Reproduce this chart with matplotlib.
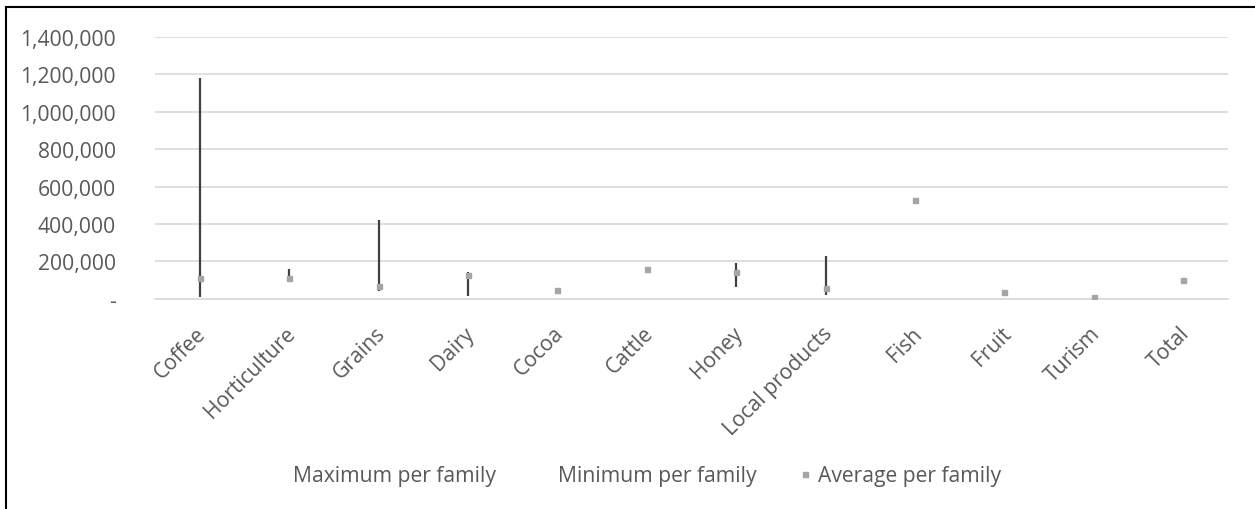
import numpy as np
import matplotlib
matplotlib.use('Agg')
import matplotlib.pyplot as plt
import matplotlib.transforms as mtransforms
from matplotlib.lines import Line2D
from matplotlib.ticker import FuncFormatter

plt.rcParams['font.family'] = ['Open Sans', 'DejaVu Sans']

categorias = ['Coffee', 'Horticulture', 'Grains', 'Dairy', 'Cocoa', 'Cattle',
              'Honey', 'Local products', 'Fish', 'Fruit', 'Turism', 'Total']
maximo = [1178000, 160000, 423000, 146000, 57000, np.nan,
          190000, 230000, np.nan, np.nan, np.nan, np.nan]
minimo = [9000, 89000, 41000, 18000, 42000, np.nan,
          66000, 23000, np.nan, np.nan, np.nan, np.nan]
media = [110000, 110000, 71000, 130000, 49000, 162000,
         146000, 59000, 530000, 37000, 11000, 101000]

cinza_texto = '#595959'
tam_fonte = 15.2

fig = plt.figure(figsize=(12.55, 5.10), dpi=100)
ax = fig.add_axes([0.1235, 0.412, 0.855, 0.514])

x = np.arange(len(categorias))
ax.vlines(x, minimo, maximo, color='#404040', linewidth=1.6, zorder=3)
ax.plot(x, media, linestyle='none', marker='s', markersize=3.6,
        color='#a5a5a5', zorder=4)

ax.set_xlim(-0.5, len(categorias) - 0.5)
ax.set_ylim(0, 1400000)
ax.set_yticks(np.arange(0, 1400001, 200000))
ax.yaxis.set_major_formatter(FuncFormatter(lambda v, p: '-' if v == 0 else f'{int(v):,}'))
ax.grid(axis='y', color='#d9d9d9', linewidth=1.2)
ax.set_axisbelow(True)
for s in ['top', 'right', 'left']:
    ax.spines[s].set_visible(False)
ax.spines['bottom'].set_color('#d9d9d9')
ax.spines['bottom'].set_linewidth(1.2)

ax.set_xticks(x)
ax.set_xticklabels(categorias, rotation=45, ha='right', rotation_mode='anchor')
ax.tick_params(axis='both', length=0, labelsize=tam_fonte, labelcolor=cinza_texto)
ax.tick_params(axis='y', pad=28)
ax.tick_params(axis='x', pad=17)
desloc = mtransforms.ScaledTranslation(-4 / 100, 0, fig.dpi_scale_trans)
for lbl in ax.get_xticklabels():
    lbl.set_transform(lbl.get_transform() + desloc)

handles = [Line2D([], [], linestyle='none'),
           Line2D([], [], linestyle='none'),
           Line2D([], [], linestyle='none', marker='s', markersize=3.6, color='#a5a5a5')]
leg = fig.legend(handles, ['Maximum per family', 'Minimum per family', 'Average per family'],
                 loc='center', bbox_to_anchor=(0.508, 0.065), ncol=3, frameon=False,
                 fontsize=tam_fonte, handlelength=0.6, handletextpad=0.3, columnspacing=2.0)
for t in leg.get_texts():
    t.set_color(cinza_texto)

# borda do gráfico (só topo e esquerda visíveis)
fig.add_artist(Line2D([6 / 1255, 6 / 1255], [0, 1 - 8 / 510], transform=fig.transFigure,
                      color='black', linewidth=1.5))
fig.add_artist(Line2D([6 / 1255, 1], [1 - 8 / 510, 1 - 8 / 510], transform=fig.transFigure,
                      color='black', linewidth=1.5))

fig.savefig('out.png', dpi=100)
